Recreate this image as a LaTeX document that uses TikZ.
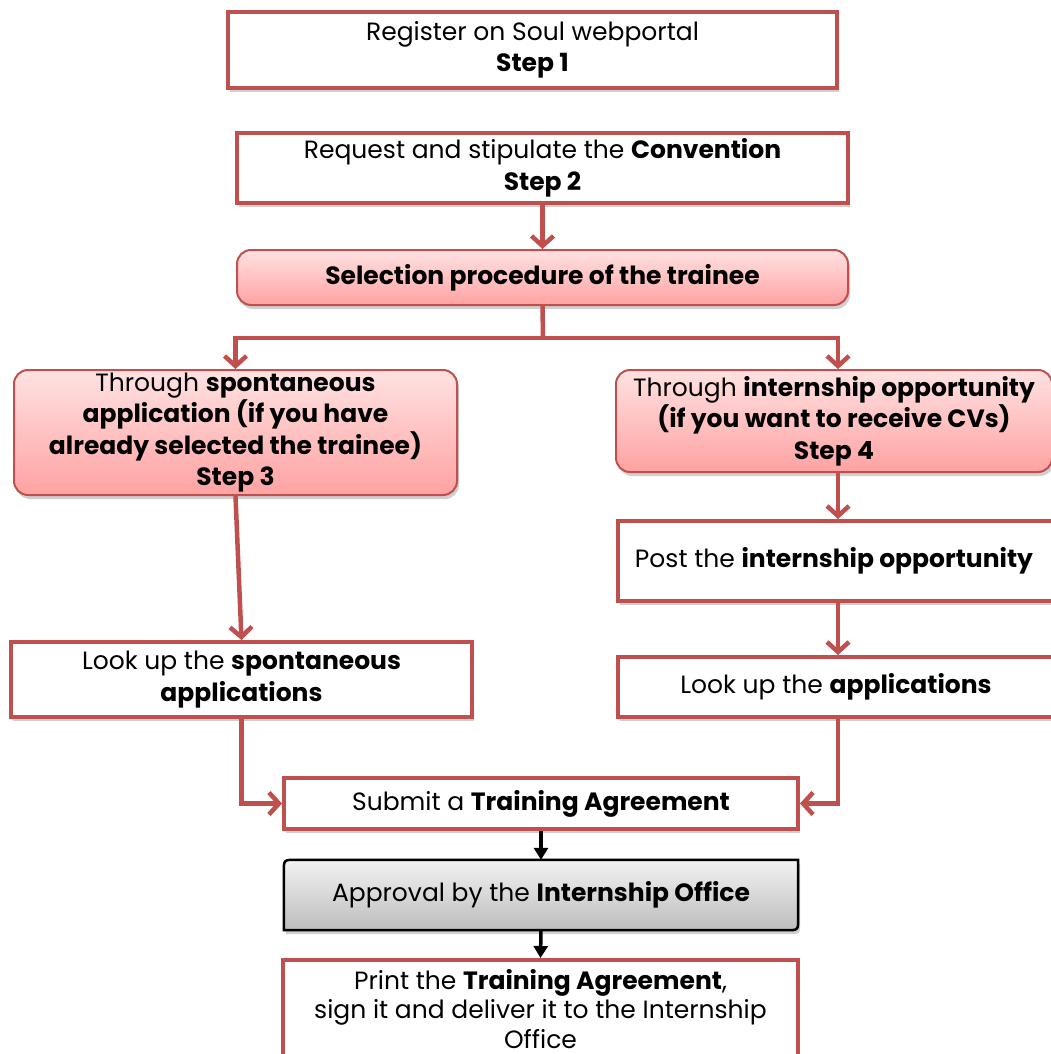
\documentclass[tikz,border=0pt]{standalone}
\usepackage{fontspec}
\setmainfont{Poppins}
\usetikzlibrary{arrows.meta,shadows,calc}
\definecolor{bred}{HTML}{C0504D}
\definecolor{ptop}{HTML}{FFE2E2}
\definecolor{pbot}{HTML}{FFA2A2}
\definecolor{gtop}{HTML}{F2F2F2}
\definecolor{gbot}{HTML}{BDBDBD}
\pgfdeclarelayer{background}
\pgfdeclarelayer{bottom}
\pgfsetlayers{bottom,background,main}
\tikzset{
  txt/.style={align=center, font=\fontsize{25}{31.5}\selectfont, inner sep=0pt},
  shad/.style={drop shadow={shadow xshift=2pt, shadow yshift=-4pt, opacity=0.3, fill=black!60}},
  whitebox/.style={txt, draw=bred, line width=4pt, fill=white, shad},
  pinkbox/.style={txt, draw=bred, line width=2pt, rounded corners=14pt, top color=ptop, bottom color=pbot, shad},
  approvalbox/.style={draw=black, line width=2.5pt, top color=gtop, bottom color=gbot, shad},
  ra/.style={draw=bred, line width=4.5pt, -{Straight Barb[length=10pt,width=22pt]}},
  rl/.style={draw=bred, line width=4.5pt},
  ba/.style={draw=black, line width=3.5pt, -{Triangle[length=12pt,width=14pt]}},
}
\begin{document}
\begin{tikzpicture}[x=1pt, y=-1pt]
\useasboundingbox (0,0) rectangle (1051,1054);
\clip (0,0) rectangle (1051,1054);
\begin{pgfonlayer}{bottom}
\fill[white] (0,0) rectangle (1051,1054);
\end{pgfonlayer}

\node[whitebox, minimum width=609pt, minimum height=76pt] (b1) at (532.5,50) {Register on Soul webportal\\ \textbf{Step 1}};
\node[whitebox, minimum width=611pt, minimum height=70pt] (b2) at (542.5,168) {Request and stipulate the \textbf{Convention}\\ \textbf{Step 2}};
\node[pinkbox, minimum width=611pt, minimum height=55pt] (sel) at (542.5,277.5) {\textbf{Selection procedure of the trainee}};
\node[pinkbox, minimum width=443pt, minimum height=125pt] (s3) at (235.5,432.5) {Through \textbf{spontaneous}\\ \textbf{application (if you have}\\ \textbf{already selected the trainee)}\\ \textbf{Step 3}};
\node[pinkbox, minimum width=436pt, minimum height=102pt] (s4) at (834,421) {Through \textbf{internship opportunity}\\ \textbf{(if you want to receive CVs)}\\ \textbf{Step 4}};
\node[whitebox, minimum width=440pt, minimum height=80pt] (post) at (838,561) {\hspace*{-8pt}Post the \textbf{internship opportunity}};
\node[whitebox, minimum width=440pt, minimum height=60pt] (lua) at (838,687) {\hspace*{-4pt}Look up the \textbf{applications}};
\node[whitebox, minimum width=461pt, minimum height=75pt] (lus) at (241.5,679.5) {Look up the \textbf{spontaneous}\\ \textbf{applications}};
\node[whitebox, minimum width=514pt, minimum height=51pt] (sub) at (541,803.5) {Submit a \textbf{Training Agreement}};
\node[txt, minimum width=514pt, minimum height=70pt] (ap) at (541,895) {Approval by the \textbf{Internship Office}};
\node[whitebox, minimum width=515pt, minimum height=98pt, font=\fontsize{25}{29.5}\selectfont] (pr) at (540.5,1009) {Print the \textbf{Training Agreement},\\ sign it and deliver it to the Internship\\ Office};

\begin{pgfonlayer}{background}
\path[approvalbox] ([xshift=12pt]ap.north west) -- (ap.north east) -- ([yshift=12pt]ap.south east) .. controls (ap.south east) .. ([xshift=-12pt]ap.south east) -- (ap.south west) -- ([yshift=-12pt]ap.north west) .. controls (ap.north west) .. ([xshift=12pt]ap.north west) -- cycle;
\end{pgfonlayer}

\coordinate (split) at (543,338);
\draw[ra] (b2.south) -- (sel.north);
\draw[rl] (sel.south) -- (split);
\draw[ra] (split) -| (s3.north);
\draw[ra] (split) -| (post.north |- s4.north);
\draw[ra] (post.north |- s4.south) -- (post.north);
\draw[ra] (post.south) -- (lua.north);
\draw[ra] (s3.south) -- (lus.north);
\draw[ra] (lus.south) |- (sub.west);
\draw[ra] (lua.south) |- (sub.east);
\draw[ba] (sub.south) -- (ap.north);
\draw[ba] (ap.south) -- (pr.north);
\end{tikzpicture}
\end{document}
